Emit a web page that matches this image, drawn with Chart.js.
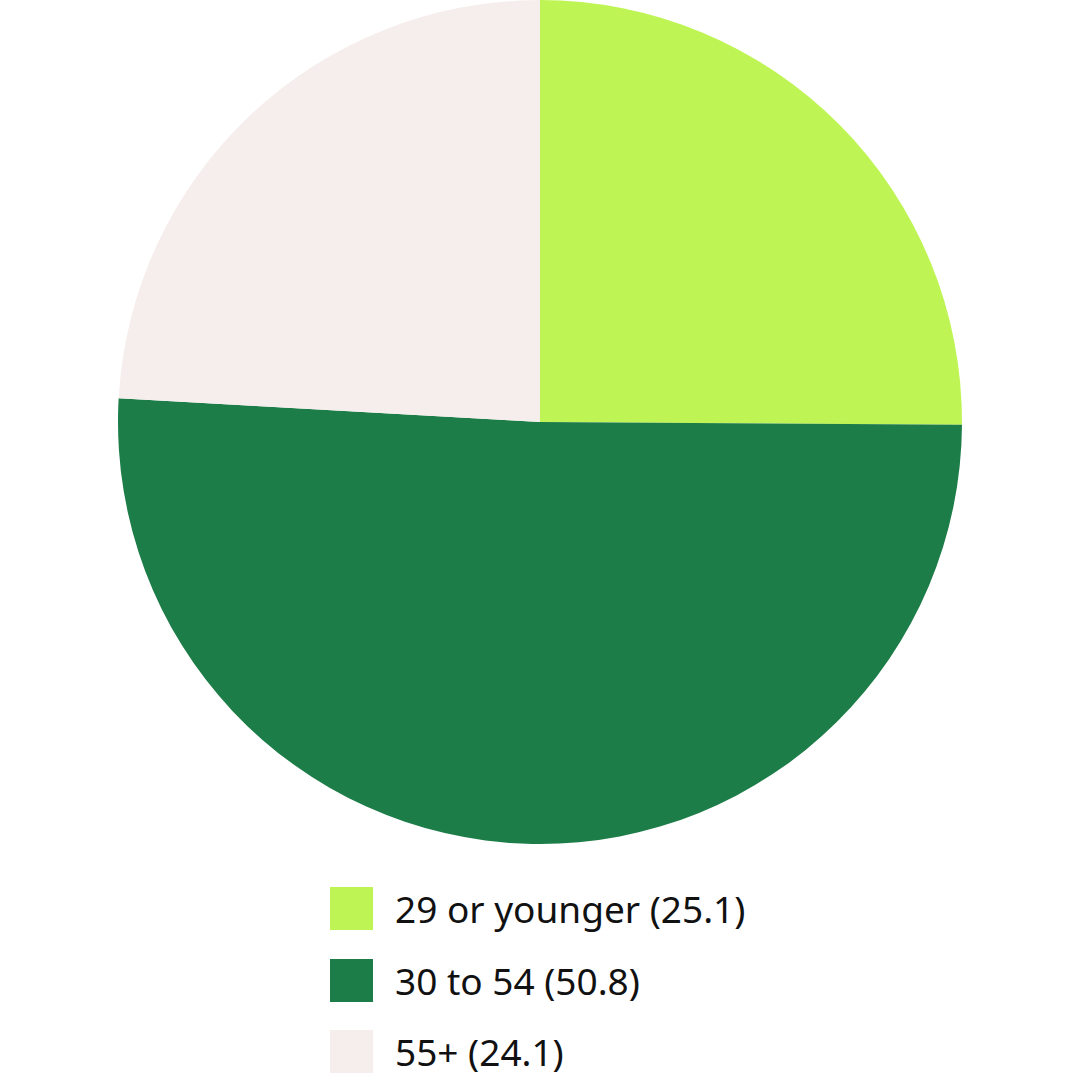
<!DOCTYPE html>
<html>
<head>
<meta charset="utf-8">
<script src="https://cdn.jsdelivr.net/npm/chart.js@4.4.1/dist/chart.umd.min.js"></script>
<style>
  html, body { margin: 0; padding: 0; background: #fff; }
  body { width: 1080px; height: 1080px; overflow: hidden; font-family: "Noto Sans", "Lato", sans-serif; }
  #wrap { position: relative; width: 1080px; height: 844px; }
  #legend { list-style: none; margin: 0; padding: 0; position: absolute; left: 330px; top: 887px; }
  #legend li { display: flex; align-items: center; height: 43px; margin-bottom: 28.5px; font-size: 37px; color: #111; }
  #legend .box { width: 43px; height: 43px; margin-right: 22px; flex: none; }
</style>
</head>
<body>
<div id="wrap"><canvas id="pie"></canvas></div>
<ul id="legend"></ul>
<script>
const labels = ["29 or younger", "30 to 54", "55+"];
const values = [25.1, 50.8, 24.1];
const colors = ["#bef554", "#1d7d48", "#f6eeec"];

function qs(id) { return document.getElementById(id); }

const chart = new Chart(qs("pie"), {
  type: "pie",
  data: {
    labels,
    datasets: [{
      data: values,
      backgroundColor: colors,
      borderWidth: 0,
    }],
  },
  options: {
    responsive: true,
    maintainAspectRatio: false,
    animation: false,
    layout: { padding: 0 },
    plugins: {
      legend: { display: false },
      tooltip: { enabled: false },
    },
  },
});

// legend as a plain list, boxes lined up on the left
const ul = qs("legend");
chart.data.labels.forEach((lab, i) => {
  const li = document.createElement("li");
  const box = document.createElement("span");
  box.className = "box";
  box.style.background = chart.data.datasets[0].backgroundColor[i];
  li.appendChild(box);
  li.appendChild(document.createTextNode(`${lab} (${chart.data.datasets[0].data[i]})`));
  ul.appendChild(li);
});
</script>
</body>
</html>
